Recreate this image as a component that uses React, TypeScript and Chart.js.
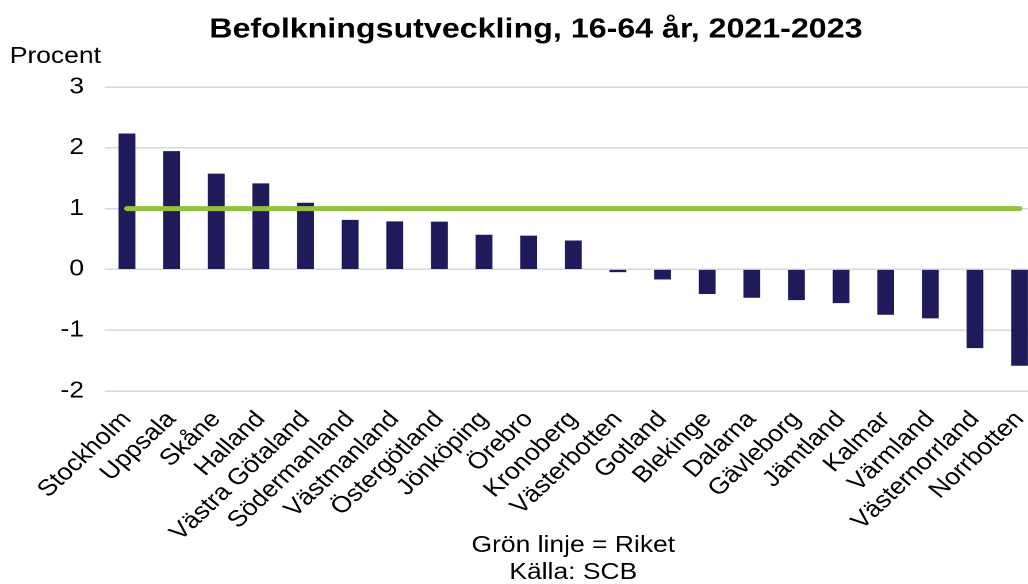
import React, { useEffect, useRef } from "react";
import { Chart, registerables } from "chart.js";

Chart.register(...registerables);

const regions = [
  "Stockholm", "Uppsala", "Skåne", "Halland", "Västra Götaland", "Södermanland",
  "Västmanland", "Östergötland", "Jönköping", "Örebro", "Kronoberg", "Västerbotten",
  "Gotland", "Blekinge", "Dalarna", "Gävleborg", "Jämtland", "Kalmar", "Värmland",
  "Västernorrland", "Norrbotten",
];
const changePct = [
  2.23, 1.94, 1.57, 1.41, 1.09, 0.81, 0.785, 0.78, 0.565, 0.55, 0.47, -0.04,
  -0.16, -0.40, -0.46, -0.50, -0.55, -0.74, -0.80, -1.29, -1.58,
];
const riketPct = [
  1, 1, 1, 1, 1, 1, 1, 1, 1, 1, 1, 1, 1, 1, 1, 1, 1, 1, 1, 1, 1,
];
const yTicks = [-2, -1, 0, 1, 2, 3];
const titleText = "Befolkningsutveckling, 16-64 år, 2021-2023";
const yAxisLabel = "Procent";
const footerLines = ["Grön linje = Riket", "Källa: SCB"];

const FONT = "'Liberation Sans', Arial, Helvetica, sans-serif";
const STRETCH = 1.15;
const W = 932;
const H = 584;

export default function App() {
  const ref = useRef<HTMLCanvasElement | null>(null);

  useEffect(() => {
    if (!ref.current) return;
    const procentPlugin = {
      id: "procentLabel",
      afterDraw(chart: any) {
        const ctx = chart.ctx;
        ctx.save();
        ctx.font = `23px ${FONT}`;
        ctx.fillStyle = "#000";
        ctx.textAlign = "left";
        ctx.textBaseline = "alphabetic";
        ctx.fillText(yAxisLabel, 8.5, 63);
        ctx.restore();
      },
    };
    const chart = new Chart(ref.current, {
      type: "bar",
      data: {
        labels: regions,
        datasets: [
          {
            type: "line",
            label: "Riket",
            data: riketPct,
            borderColor: "#93c13d",
            borderWidth: 5,
            borderCapStyle: "round",
            pointRadius: 0,
            fill: false,
            order: 0,
          } as any,
          {
            type: "bar",
            label: "Län",
            data: changePct,
            backgroundColor: "#1f1b5b",
            barThickness: 14,
            order: 1,
          },
        ],
      },
      options: {
        responsive: false,
        animation: false,
        devicePixelRatio: 2,
        layout: { padding: { left: 26, right: 26, top: 0, bottom: 0 } },
        plugins: {
          legend: { display: false },
          tooltip: { enabled: false },
          title: {
            display: true,
            text: titleText,
            color: "#000",
            font: { family: FONT, size: 28, weight: "bold", lineHeight: 1.2 },
            padding: { top: 13, bottom: 40.4 },
          },
        },
        scales: {
          x: {
            grid: { display: false },
            border: { display: false },
            ticks: {
              autoSkip: false,
              minRotation: 47,
              maxRotation: 47,
              padding: 7,
              color: "#000",
              font: { family: FONT, size: 23 },
            },
            title: {
              display: true,
              text: footerLines,
              color: "#000",
              font: { family: FONT, size: 23, lineHeight: 1.17 },
              padding: { top: 0, bottom: -2 },
            },
            afterFit(s: any) {
              s.height = 193;
            },
          },
          y: {
            min: -2,
            max: 3,
            afterBuildTicks(s: any) {
              s.ticks = yTicks.map((v) => ({ value: v }));
            },
            grid: { color: "#d9d9d9", lineWidth: 1.5, drawTicks: false },
            border: { display: false },
            ticks: {
              padding: 18,
              color: "#000",
              font: { family: FONT, size: 23 },
            },
            afterFit(s: any) {
              s.width = 65;
            },
          },
        },
      },
      plugins: [procentPlugin],
    });
    return () => chart.destroy();
  }, []);

  return (
    <div
      style={{
        position: "fixed",
        left: 0,
        top: 0,
        width: 1028,
        height: 584,
        overflow: "hidden",
        background: "#fff",
      }}
    >
      <div
        style={{
          width: W,
          height: H,
          transform: `scaleX(${STRETCH})`,
          transformOrigin: "0 0",
        }}
      >
        <canvas
          ref={ref}
          width={W}
          height={H}
          style={{ width: `${W}px`, height: `${H}px`, display: "block" }}
        />
      </div>
    </div>
  );
}
